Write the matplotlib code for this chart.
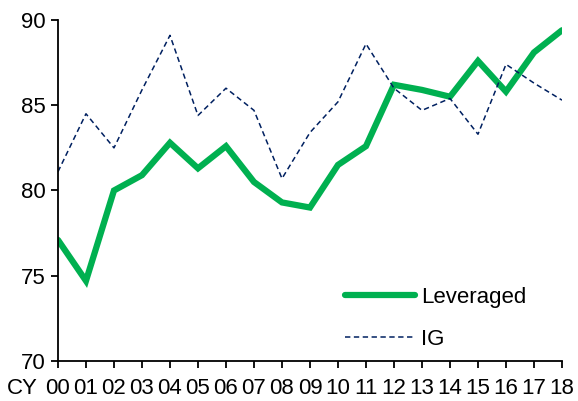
import matplotlib
matplotlib.use("Agg")
import matplotlib.pyplot as plt

years = ["00", "01", "02", "03", "04", "05", "06", "07", "08", "09",
         "10", "11", "12", "13", "14", "15", "16", "17", "18"]
leveraged = [77.1, 74.7, 80.0, 80.9, 82.8, 81.3, 82.6, 80.5, 79.3, 79.0,
             81.5, 82.6, 86.2, 85.9, 85.5, 87.6, 85.8, 88.1, 89.4]
ig = [81.1, 84.5, 82.5, 85.9, 89.1, 84.4, 86.0, 84.7, 80.7, 83.4,
      85.2, 88.6, 86.0, 84.7, 85.4, 83.3, 87.4, 86.3, 85.3]
y_ticks = [70, 75, 80, 85, 90]

plt.rcParams["font.family"] = ["Liberation Sans", "DejaVu Sans"]

fig = plt.figure(figsize=(5.78, 4.01), dpi=100)
ax = fig.add_axes([0.1003, 0.0998, 0.872, 0.8503])

x = list(range(len(years)))
ax.plot(x, leveraged, color="#00B050", lw=4.5, solid_capstyle="round",
        solid_joinstyle="miter", label="Leveraged")
ax.plot(x, ig, color="#002060", lw=1.1, dashes=(3.5, 2.3), label="IG")

ax.set_xlim(0, len(years) - 1)
ax.set_ylim(70, 90)
ax.set_yticks(y_ticks)
ax.set_xticks(x)
ax.set_xticklabels(years)

for s in ("top", "right"):
    ax.spines[s].set_visible(False)
for s in ("left", "bottom"):
    ax.spines[s].set_linewidth(1.3)
    ax.spines[s].set_color("black")

ax.tick_params(axis="both", direction="out", length=5, width=1.3,
               labelsize=16, colors="black")
ax.tick_params(axis="x", pad=7)
ax.tick_params(axis="y", pad=4)

fig.text(0.012, 0.03, "CY", fontsize=16, ha="left", va="center")

leg = ax.legend(loc="upper left", bbox_to_anchor=(0.547, 0.25),
                frameon=False, borderpad=0, fontsize=16, handlelength=3.15,
                labelspacing=0.95, handletextpad=0.3)

fig.savefig("out.png", dpi=100)
